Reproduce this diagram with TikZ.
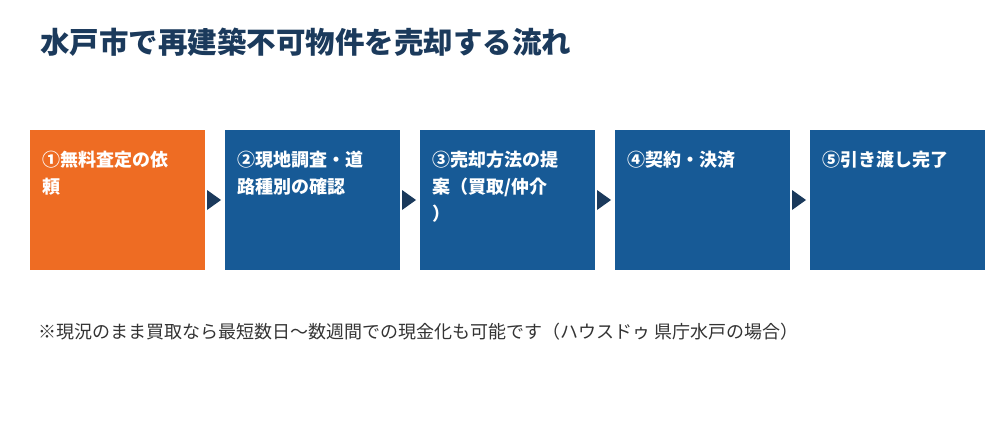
\documentclass[tikz,border=0pt]{standalone}
\usepackage{fontspec}
\setmainfont{Noto Sans CJK JP}
\definecolor{org}{HTML}{EE6C23}
\definecolor{blu}{HTML}{175A96}
\definecolor{nav}{HTML}{1B3A5C}
\definecolor{txt}{HTML}{333333}
\begin{document}
\begin{tikzpicture}[x=1pt,y=-1pt,
 box/.style={minimum width=175pt,minimum height=140pt,inner sep=0pt,anchor=north west},
 lab/.style={anchor=north west,align=left,text=white,font=\fontsize{18}{27}\selectfont\bfseries,inner sep=0pt},
 tri/.style={fill=nav}]
\useasboundingbox (0,0) rectangle (1000,420);
\node[anchor=west,inner sep=0pt,text=nav,font=\fontsize{29.5}{34}\selectfont\bfseries] (t) at (40,42) {水戸市で再建築不可物件を売却する流れ};
\foreach \i/\x/\c/\s in {1/30/org/{①無料査定の依\\頼},2/225/blu/{②現地調査・道\\路種別の確認},3/420/blu/{③売却方法の提\\案（買取/仲介\\）},4/615/blu/{④契約・決済},5/810/blu/{⑤引き渡し完了}}{
 \node[box,fill=\c] (b\i) at (\x,130) {};
 \node[lab] (l\i) at (\x+12,151) {\s};
}
\foreach \x in {207,402,597,792}{
 \fill[tri] (\x,190) -- (\x+14,200) -- (\x,210) -- cycle;
}
\node[anchor=west,inner sep=0pt,text=txt,font=\fontsize{18}{22}\selectfont] (n) at (38,332) {※現況のまま買取なら最短数日〜数週間での現金化も可能です（ハウスドゥ 県庁水戸の場合）};
\end{tikzpicture}
\end{document}
